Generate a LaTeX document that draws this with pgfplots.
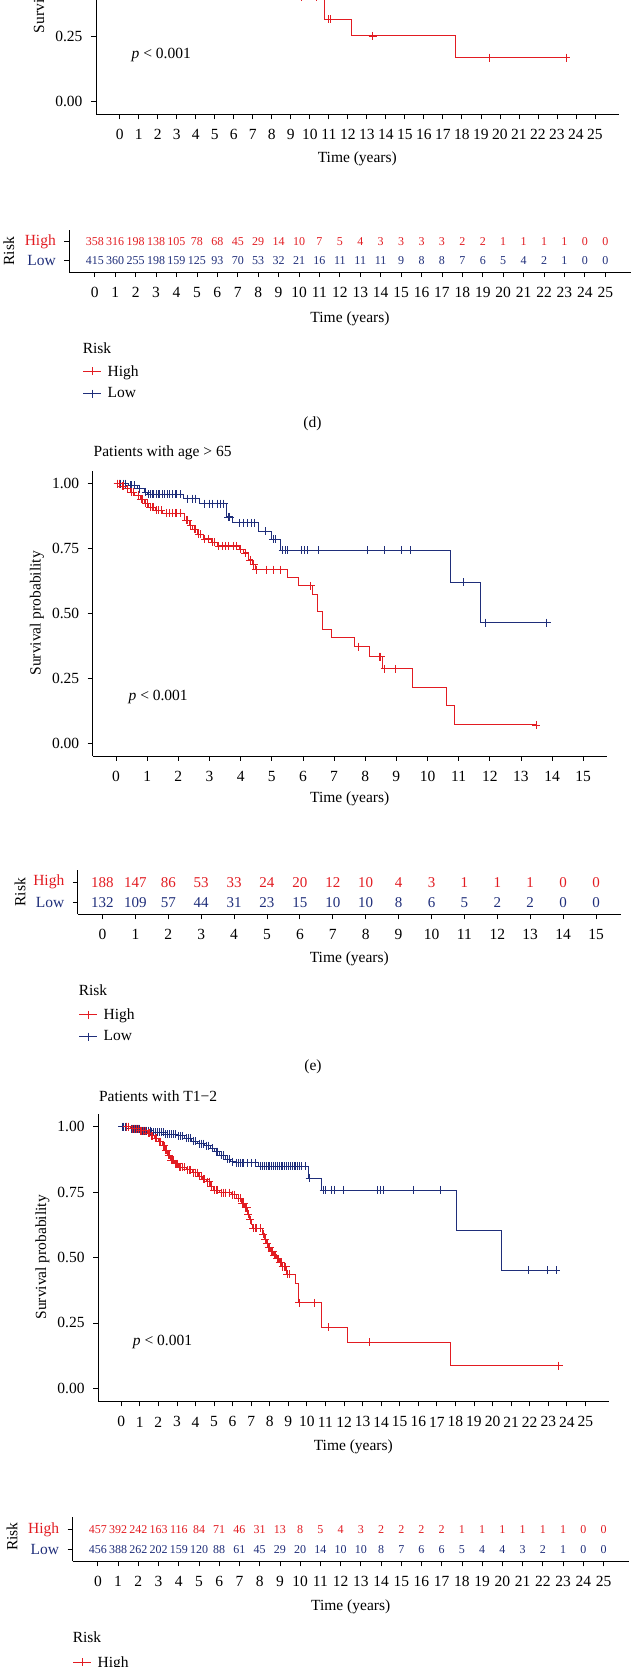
\documentclass[border=0pt]{standalone}
\usepackage{pgfplots}
\pgfplotsset{compat=1.18}
\usepackage{fontspec}
\setmainfont{Liberation Serif}
\definecolor{myred}{RGB}{226,28,34}
\definecolor{myblue}{RGB}{31,46,122}
\newcommand{\fs}{\fontsize{15.5}{18}\selectfont}
\newcommand{\fn}{\fontsize{12}{14}\selectfont}
\newcommand{\fm}{\fontsize{15}{17}\selectfont}
\pgfplotsset{
  base/.style={
    scale only axis,
    axis x line*=bottom, axis y line*=left,
    axis line style={line width=0.8pt, black},
    tick style={black, line width=0.8pt},
    tick align=outside, major tick length=5pt,
    font=\fs,
    /pgf/number format/assume math mode=true,
    every tick label/.append style={inner sep=0pt, font=\fs},
    xticklabel style={anchor=center, yshift=-15.5pt},
    yticklabel style={anchor=east, xshift=-8.3pt},
  },
  surv/.style={base, anchor=south west,
    ymin=-0.05, ymax=1.05, ytick={0,0.25,0.5,0.75,1},
    yticklabels={0.00,0.25,0.50,0.75,1.00}},
  tab/.style={base, anchor=south west,
    ymin=0.4, ymax=2.6, ytick={1,2},
    yticklabels={\textcolor{myblue}{Low},\textcolor{myred}{High}},
    legend cell align=left},
  legsty/.style={legend style={at={#1}, anchor=north west, draw=none, fill=none,
    inner sep=0pt, row sep=10.2pt, column sep=6pt, font=\fs, nodes={inner sep=0pt}}},
  legend image code/.code={\draw[#1, mark repeat=2, mark phase=2] plot coordinates {(0pt,0pt) (9pt,0pt) (18pt,0pt)};},
  rcurve/.style={const plot, myred, line width=0.9pt, mark=none},
  bcurve/.style={const plot, myblue, line width=0.9pt, mark=none},
  rmark/.style={only marks, mark=+, mark size=4pt, myred, mark options={line width=0.7pt}},
  bmark/.style={only marks, mark=+, mark size=4pt, myblue, mark options={line width=0.7pt}},
  nums/.style 2 args={forget plot, draw=none, mark=none, nodes near coords, point meta=explicit,
    every node near coord/.append style={anchor=center, inner sep=0pt, text=#1, font=#2}},
}
\begin{document}
\begin{tikzpicture}[x=1pt,y=1pt]
\useasboundingbox (0,0) rectangle (632,1667);
\clip (0,0) rectangle (632,1667);

% ---------------- panel (d), survival (cropped) ----------------
\begin{axis}[surv, at={(96pt,1552.7pt)}, width=522.7pt, height=286.3pt,
  xmin=-1.25, xmax=26.25, xtick={0,...,25}]
\addplot[rcurve] coordinates {(8.6,0.46) (9.3,0.40) (10.78,0.315) (12.2,0.251) (17.67,0.168) (23.5,0.168)};
\addplot[rmark] coordinates {(9.57,0.40) (10.35,0.40) (11.0,0.315) (11.08,0.315) (13.3,0.251) (19.47,0.168) (23.5,0.168)};
\node[anchor=west, font=\fs] at (axis cs:0.44,0.177) {\textit{p} < 0.001};
\end{axis}
\node[rotate=90, font=\fs] at (40.3,1696) {Survival probability};
\node[font=\fs] at (357.3,1508) {Time (years)};

% ---------------- panel (d), risk table ----------------
\begin{axis}[tab, at={(69.3pt,1394.9pt)}, width=561.5pt, height=41.8pt,
  xmin=-1.25, xmax=26.25, xtick={0,...,25}, legsty={(axis description cs:0.0237,-2.225)}]
\addlegendimage{myred, line width=0.9pt, mark=+, mark size=4pt, mark options={line width=0.7pt}}
\addlegendentry{High}
\addlegendimage{myblue, line width=0.9pt, mark=+, mark size=4pt, mark options={line width=0.7pt}}
\addlegendentry{Low}
\addplot[nums={myred}{\fn}] coordinates {(0,2)[358] (1,2)[316] (2,2)[198] (3,2)[138] (4,2)[105] (5,2)[78] (6,2)[68] (7,2)[45] (8,2)[29] (9,2)[14] (10,2)[10] (11,2)[7] (12,2)[5] (13,2)[4] (14,2)[3] (15,2)[3] (16,2)[3] (17,2)[3] (18,2)[2] (19,2)[2] (20,2)[1] (21,2)[1] (22,2)[1] (23,2)[1] (24,2)[0] (25,2)[0]};
\addplot[nums={myblue}{\fn}] coordinates {(0,1)[415] (1,1)[360] (2,1)[255] (3,1)[198] (4,1)[159] (5,1)[125] (6,1)[93] (7,1)[70] (8,1)[53] (9,1)[32] (10,1)[21] (11,1)[16] (12,1)[11] (13,1)[11] (14,1)[11] (15,1)[9] (16,1)[8] (17,1)[8] (18,1)[7] (19,1)[6] (20,1)[5] (21,1)[4] (22,1)[2] (23,1)[1] (24,1)[0] (25,1)[0]};
\end{axis}
\node[rotate=90, font=\fs] at (8.9,1415.8) {Risk};
\node[font=\fs] at (350,1348.3) {Time (years)};
\node[anchor=west, font=\fs, inner sep=0pt] at (82.6,1318.7) {Risk};
\node[font=\fs] at (312.4,1243.7) {(d)};

% ---------------- panel (e), survival ----------------
\node[anchor=west, font=\fs, inner sep=0pt] at (93.5,1213.7) {Patients with age > 65};
\begin{axis}[surv, at={(92.7pt,911pt)}, width=513.9pt, height=285.3pt,
  xmin=-0.75, xmax=15.75, xtick={0,...,15}]
\addplot[bcurve] coordinates {(0,1) (0.4,0.993) (0.7,0.98) (0.9,0.968) (1.0,0.959) (2.16,0.942) (2.69,0.923) (3.53,0.872) (3.75,0.849) (4.57,0.817) (5.0,0.785) (5.29,0.743) (10.75,0.619) (11.69,0.464) (13.83,0.464)};
\addplot[rcurve] coordinates {(0,1.0) (0.12,0.99) (0.3,0.98) (0.45,0.968) (0.6,0.955) (0.77,0.94) (0.9,0.925) (1.05,0.91) (1.25,0.898) (1.5,0.887) (2.2,0.86) (2.35,0.84) (2.45,0.825) (2.6,0.805) (2.8,0.787) (3.05,0.774) (3.25,0.76) (3.95,0.748) (4.1,0.733) (4.25,0.706) (4.38,0.688) (4.46,0.669) (5.5,0.638) (5.85,0.606) (6.3,0.574) (6.46,0.506) (6.63,0.438) (6.92,0.406) (7.67,0.372) (8.12,0.333) (8.56,0.286) (9.52,0.214) (10.62,0.143) (10.85,0.07) (13.48,0.07)};
\addplot[bmark] coordinates {(0.05,1) (0.1,1) (0.15,1) (0.25,1) (0.3,1) (0.45,0.993) (0.5,0.993) (0.6,0.993) (0.75,0.98) (0.95,0.968) (1.05,0.959) (1.1,0.959) (1.15,0.959) (1.2,0.959) (1.3,0.959) (1.35,0.959) (1.4,0.959) (1.5,0.959) (1.55,0.959) (1.65,0.959) (1.7,0.959) (1.8,0.959) (1.9,0.959) (1.95,0.959) (2.05,0.959) (2.3,0.942) (2.45,0.942) (2.55,0.942) (2.85,0.923) (3.0,0.923) (3.1,0.923) (3.25,0.923) (3.35,0.923) (3.45,0.923) (3.6,0.872) (3.65,0.872) (3.95,0.849) (4.1,0.849) (4.2,0.849) (4.35,0.849) (4.45,0.849) (4.8,0.817) (5.05,0.785) (5.1,0.785) (5.35,0.743) (5.45,0.743) (5.5,0.743) (5.95,0.743) (6.05,0.743) (6.15,0.743) (6.49,0.743) (8.08,0.743) (8.62,0.743) (9.17,0.743) (9.44,0.743) (11.15,0.619) (11.87,0.464) (13.83,0.464)};
\addplot[rmark] coordinates {(0.05,1) (0.1,1) (0.2,0.99) (0.25,0.99) (0.35,0.98) (0.5,0.968) (0.55,0.968) (0.7,0.955) (0.8,0.94) (0.85,0.94) (0.95,0.925) (1.0,0.925) (1.1,0.91) (1.15,0.91) (1.2,0.91) (1.3,0.898) (1.35,0.898) (1.45,0.898) (1.6,0.887) (1.7,0.887) (1.8,0.887) (1.9,0.887) (1.95,0.887) (2.05,0.887) (2.25,0.86) (2.3,0.86) (2.4,0.84) (2.5,0.825) (2.55,0.825) (2.65,0.805) (2.7,0.805) (2.85,0.787) (2.95,0.787) (3.1,0.774) (3.15,0.774) (3.3,0.76) (3.4,0.76) (3.5,0.76) (3.6,0.76) (3.75,0.76) (3.85,0.76) (4.0,0.748) (4.15,0.733) (4.3,0.706) (4.42,0.688) (4.5,0.669) (4.84,0.669) (5.05,0.669) (5.26,0.669) (6.25,0.606) (7.78,0.372) (8.45,0.333) (8.5,0.333) (8.62,0.286) (8.98,0.286) (13.48,0.07)};
\node[anchor=west, font=\fs] at (axis cs:0.29,0.179) {\textit{p} < 0.001};
\end{axis}
\node[rotate=90, font=\fs] at (37,1053.7) {Survival probability};
\node[font=\fs] at (349.7,868.3) {Time (years)};

% ---------------- panel (e), risk table ----------------
\begin{axis}[tab, at={(77.8pt,752.7pt)}, width=542.9pt, height=44pt,
  xmin=-0.75, xmax=15.75, xtick={0,...,15}, legsty={(axis description cs:0.0015,-2.134)}]
\addlegendimage{myred, line width=0.9pt, mark=+, mark size=4pt, mark options={line width=0.7pt}}
\addlegendentry{High}
\addlegendimage{myblue, line width=0.9pt, mark=+, mark size=4pt, mark options={line width=0.7pt}}
\addlegendentry{Low}
\addplot[nums={myred}{\fm}] coordinates {(0,2)[188] (1,2)[147] (2,2)[86] (3,2)[53] (4,2)[33] (5,2)[24] (6,2)[20] (7,2)[12] (8,2)[10] (9,2)[4] (10,2)[3] (11,2)[1] (12,2)[1] (13,2)[1] (14,2)[0] (15,2)[0]};
\addplot[nums={myblue}{\fm}] coordinates {(0,1)[132] (1,1)[109] (2,1)[57] (3,1)[44] (4,1)[31] (5,1)[23] (6,1)[15] (7,1)[10] (8,1)[10] (9,1)[8] (10,1)[6] (11,1)[5] (12,1)[2] (13,1)[2] (14,1)[0] (15,1)[0]};
\end{axis}
\node[rotate=90, font=\fs] at (20,774.7) {Risk};
\node[font=\fs] at (349.3,708.3) {Time (years)};
\node[anchor=west, font=\fs, inner sep=0pt] at (78.6,677) {Risk};
\node[font=\fs] at (313,600.3) {(e)};

% ---------------- panel (f), survival ----------------
\node[anchor=west, font=\fs, inner sep=0pt] at (98.8,570.3) {Patients with T1−2};
\begin{axis}[surv, at={(98pt,265.6pt)}, width=510.6pt, height=287.8pt,
  xmin=-1.25, xmax=26.25, xtick={0,...,25}]
\addplot[bcurve] coordinates {(0,1) (0.5,0.993) (1.0,0.985) (1.6,0.978) (2.3,0.972) (3.0,0.965) (3.4,0.956) (3.8,0.945) (4.1,0.935) (4.5,0.928) (4.8,0.917) (5.0,0.905) (5.3,0.89) (5.6,0.876) (5.9,0.866) (6.1,0.862) (7.4,0.848) (10.09,0.803) (10.76,0.758) (18.08,0.605) (20.47,0.452) (23.56,0.452)};
\addplot[rcurve] coordinates {(0,1) (0.5,0.993) (1.0,0.985) (1.4,0.975) (1.6,0.965) (1.8,0.955) (2.0,0.943) (2.2,0.928) (2.35,0.91) (2.5,0.89) (2.65,0.872) (2.85,0.858) (3.1,0.845) (3.5,0.835) (3.85,0.824) (4.15,0.81) (4.35,0.8) (4.6,0.79) (4.8,0.772) (4.95,0.758) (5.3,0.748) (5.95,0.74) (6.2,0.726) (6.45,0.708) (6.65,0.69) (6.8,0.665) (6.9,0.645) (7.0,0.625) (7.05,0.612) (7.6,0.59) (7.7,0.57) (7.8,0.553) (7.9,0.54) (8.05,0.525) (8.2,0.51) (8.35,0.495) (8.5,0.48) (8.65,0.465) (8.9,0.436) (9.38,0.402) (9.56,0.327) (10.81,0.233) (12.2,0.176) (17.72,0.087) (23.56,0.087)};
\addplot[bmark] coordinates {(0.05,1) (0.1,1) (0.2,1) (0.3,1) (0.4,1) (0.55,0.993) (0.65,0.993) (0.75,0.993) (0.85,0.993) (0.95,0.993) (1.05,0.985) (1.15,0.985) (1.25,0.985) (1.35,0.985) (1.45,0.985) (1.55,0.985) (1.65,0.978) (1.75,0.978) (1.85,0.978) (1.95,0.978) (2.05,0.978) (2.15,0.978) (2.25,0.978) (2.4,0.972) (2.5,0.972) (2.6,0.972) (2.7,0.972) (2.8,0.972) (2.9,0.972) (3.1,0.965) (3.2,0.965) (3.3,0.965) (3.5,0.956) (3.6,0.956) (3.7,0.956) (3.9,0.945) (4.0,0.945) (4.2,0.935) (4.3,0.935) (4.4,0.935) (4.6,0.928) (4.7,0.928) (4.9,0.917) (5.1,0.905) (5.2,0.905) (5.4,0.89) (5.5,0.89) (5.7,0.876) (5.8,0.876) (6.0,0.866) (6.2,0.862) (6.3,0.862) (6.4,0.862) (6.5,0.862) (6.6,0.862) (6.8,0.862) (7.0,0.862) (7.2,0.862) (7.5,0.848) (7.6,0.848) (7.7,0.848) (7.8,0.848) (7.9,0.848) (8.0,0.848) (8.1,0.848) (8.2,0.848) (8.3,0.848) (8.4,0.848) (8.5,0.848) (8.6,0.848) (8.7,0.848) (8.8,0.848) (8.9,0.848) (9.0,0.848) (9.1,0.848) (9.2,0.848) (9.3,0.848) (9.4,0.848) (9.5,0.848) (9.6,0.848) (9.7,0.848) (9.9,0.848) (10.15,0.803) (10.9,0.758) (11.0,0.758) (11.3,0.758) (11.5,0.758) (11.95,0.758) (13.77,0.758) (13.95,0.758) (14.13,0.758) (15.71,0.758) (17.18,0.758) (21.94,0.452) (22.96,0.452) (23.43,0.452)};
\addplot[rmark] coordinates {(0.3,1) (0.4,1) (0.6,0.993) (0.7,0.993) (0.8,0.993) (0.9,0.993) (1.05,0.985) (1.1,0.985) (1.2,0.985) (1.3,0.985) (1.45,0.975) (1.5,0.975) (1.65,0.965) (1.7,0.965) (1.85,0.955) (1.9,0.955) (2.05,0.943) (2.1,0.943) (2.25,0.928) (2.3,0.928) (2.4,0.91) (2.45,0.91) (2.55,0.89) (2.6,0.89) (2.7,0.872) (2.75,0.872) (2.8,0.872) (2.9,0.858) (2.95,0.858) (3.0,0.858) (3.05,0.858) (3.15,0.845) (3.2,0.845) (3.3,0.845) (3.4,0.845) (3.55,0.835) (3.65,0.835) (3.75,0.835) (3.9,0.824) (4.0,0.824) (4.1,0.824) (4.2,0.81) (4.3,0.81) (4.4,0.8) (4.5,0.8) (4.65,0.79) (4.75,0.79) (4.85,0.772) (5.0,0.758) (5.1,0.758) (5.2,0.758) (5.4,0.748) (5.5,0.748) (5.6,0.748) (5.8,0.748) (6.0,0.74) (6.1,0.74) (6.3,0.726) (6.4,0.726) (6.5,0.708) (6.6,0.708) (6.7,0.69) (6.75,0.69) (6.85,0.665) (6.95,0.645) (7.1,0.612) (7.2,0.612) (7.3,0.612) (7.5,0.612) (7.65,0.59) (7.75,0.57) (7.85,0.553) (7.95,0.54) (8.0,0.54) (8.1,0.525) (8.15,0.525) (8.25,0.51) (8.3,0.51) (8.4,0.495) (8.45,0.495) (8.55,0.48) (8.6,0.48) (8.7,0.465) (8.8,0.465) (8.85,0.465) (8.95,0.436) (9.05,0.436) (9.6,0.327) (10.4,0.327) (11.17,0.233) (13.38,0.176) (23.56,0.087)};
\node[anchor=west, font=\fs] at (axis cs:0.44,0.178) {\textit{p} < 0.001};
\end{axis}
\node[rotate=90, font=\fs] at (42.3,409.7) {Survival probability};
\node[font=\fs] at (353.3,220) {Time (years)};

% ---------------- panel (f), risk table ----------------
\begin{axis}[tab, at={(72.6pt,105.7pt)}, width=556.2pt, height=44pt,
  xmin=-1.25, xmax=26.25, xtick={0,...,25}, legsty={(axis description cs:0,-2.155)}]
\addlegendimage{myred, line width=0.9pt, mark=+, mark size=4pt, mark options={line width=0.7pt}}
\addlegendentry{High}
\addlegendimage{myblue, line width=0.9pt, mark=+, mark size=4pt, mark options={line width=0.7pt}}
\addlegendentry{Low}
\addplot[nums={myred}{\fn}] coordinates {(0,2)[457] (1,2)[392] (2,2)[242] (3,2)[163] (4,2)[116] (5,2)[84] (6,2)[71] (7,2)[46] (8,2)[31] (9,2)[13] (10,2)[8] (11,2)[5] (12,2)[4] (13,2)[3] (14,2)[2] (15,2)[2] (16,2)[2] (17,2)[2] (18,2)[1] (19,2)[1] (20,2)[1] (21,2)[1] (22,2)[1] (23,2)[1] (24,2)[0] (25,2)[0]};
\addplot[nums={myblue}{\fn}] coordinates {(0,1)[456] (1,1)[388] (2,1)[262] (3,1)[202] (4,1)[159] (5,1)[120] (6,1)[88] (7,1)[61] (8,1)[45] (9,1)[29] (10,1)[20] (11,1)[14] (12,1)[10] (13,1)[10] (14,1)[8] (15,1)[7] (16,1)[6] (17,1)[6] (18,1)[5] (19,1)[4] (20,1)[4] (21,1)[3] (22,1)[2] (23,1)[1] (24,1)[0] (25,1)[0]};
\end{axis}
\node[rotate=90, font=\fs] at (12,130.3) {Risk};
\node[font=\fs] at (350.7,60) {Time (years)};
\node[anchor=west, font=\fs, inner sep=0pt] at (72.6,30.3) {Risk};
\end{tikzpicture}
\end{document}
